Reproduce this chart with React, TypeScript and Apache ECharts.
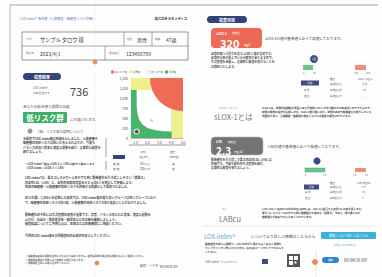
import React, { useEffect, useRef } from "react";
import * as echarts from "echarts";

// ---- data ----
const xRange = [0.6, 5.0];
const yTicks = [0, 250, 500, 750, 1000, 1250, 1500];
const legendNames = ["高リスク域", "境界域", "低リスク域", "標準域"];
const legendColors = ["#ee6b55", "#eef08c", "#ffffff", "#47b46c"];
const greenZone = [[0.6, 0], [5, 0], [5, 1500], [0.6, 1500]];
const yellowTop = [[0.6, 1200], [5, 1200], [5, 1500], [0.6, 1500]];
const yellowRight = [[4.04, 0], [5, 0], [5, 1500], [4.04, 1500]];
const whiteZone = [[1.08, 1200], [1.08, 800], [1.15, 600], [1.3, 450], [1.6, 330], [2.0, 250], [2.6, 200], [3.3, 170], [4.04, 160], [4.04, 1200]];
const redCenter = [5, 1500];
const redEdge = [2.2, 1500];
const patientPoint = [[1.08, 160]];
const zoneLabel = [[2.35, 450]];
const totalScore = "736";
const sloxValue = "320";
const labValue = "2.3";

const FONT = "'Noto Sans CJK JP', 'Noto Sans', sans-serif";

function t(x: number, y: number, text: string, size = 3.6, fill = "#555", extra: any = {}) {
  return {
    type: "text",
    x,
    y,
    silent: true,
    style: { text, fill, fontSize: size, fontFamily: FONT, verticalAlign: "middle", align: "left", ...extra },
  };
}
function r(x: number, y: number, w: number, h: number, fill: string, extra: any = {}, rad = 0) {
  return { type: "rect", silent: true, shape: { x, y, width: w, height: h, r: rad }, style: { fill, ...extra } };
}
function ln(x1: number, y1: number, x2: number, y2: number, stroke = "#888", lw = 0.6, extra: any = {}) {
  return { type: "line", silent: true, shape: { x1, y1, x2, y2 }, style: { stroke, lineWidth: lw, ...extra } };
}
function para(x: number, y: number, lines: string[], gap = 4.4, size = 3.2, fill = "#4a4a4a") {
  return lines.map((s, i) => t(x, y + i * gap, s, size, fill, { fontWeight: "bold" }));
}

export default function App() {
  const ref = useRef<HTMLDivElement>(null);
  useEffect(() => {
    const chart = echarts.init(ref.current!, null, { renderer: "svg" });
    const regions = [
      { pts: greenZone, fill: legendColors[3] },
      { pts: yellowTop, fill: legendColors[1] },
      { pts: yellowRight, fill: legendColors[1] },
      { pts: whiteZone, fill: legendColors[2] },
    ];

    const graphics: any[] = [
      // page frame and fold lines
      ln(10, 5, 378, 5, "#8a8a8a", 0.8),
      ln(10, 5, 10, 277, "#9a9a9a", 0.7),
      ln(95, 0, 95, 277, "#f2e3b0", 0.5, { lineDash: [1.5, 1.5] }),
      ln(316, 250, 316, 277, "#f2c9b0", 0.5),
      // header
      t(20, 18, "LOX-index®  報告書（心筋梗塞・脳梗塞リスク評価）", 3.2, "#5d83b8"),
      t(187, 18, "株式会社 ＮＫメディコ", 3.2, "#333", { align: "right", fontWeight: "bold" }),
      // patient box
      r(22, 32, 166, 28, "none", { stroke: "#555", lineWidth: 0.6 }),
      ln(22, 46, 188, 46, "#555", 0.5),
      ln(124, 32, 124, 46, "#555", 0.5),
      ln(152, 32, 152, 46, "#555", 0.5),
      ln(105, 46, 105, 60, "#555", 0.5),
      t(26, 39, "ﾌﾘ ｶﾅ", 2.6, "#666"),
      t(40, 39, "サンプル タロウ 様", 5.2, "#333"),
      t(127, 39, "性別", 2.6, "#666"),
      t(137, 39, "男性", 5, "#333"),
      t(155, 39, "年齢", 2.6, "#666"),
      t(166, 39, "47歳", 5, "#333"),
      t(26, 53, "受診日", 2.6, "#666"),
      t(40, 53, "2023/4/1", 5, "#333"),
      t(109, 53, "受診番号", 2.6, "#666"),
      t(126, 53, "123456789", 5, "#333"),
      // orange dots (scan marks)
      { type: "circle", silent: true, shape: { cx: 95, cy: 62, r: 2.4 }, style: { fill: "#f08a5d" } },
      { type: "circle", silent: true, shape: { cx: 97, cy: 263, r: 2.4 }, style: { fill: "#f08a5d" } },
      { type: "circle", silent: true, shape: { cx: 315, cy: 262, r: 3 }, style: { fill: "#f08a5d" } },
      // left result section
      r(23, 73, 38, 7, "#34447a", {}, 3.5),
      t(42, 76.5, "検査結果", 4, "#fff", { align: "center", fontWeight: "bold" }),
      t(33, 88, "LOX-index®", 2.8, "#666"),
      t(33, 93, "の総合値です", 2.8, "#666"),
      t(70, 91, totalScore, 11, "#444"),
      t(23, 106, "あなたの総合値と前回の比較", 3.6, "#555"),
      r(23, 112, 44, 11, "#3fae66", {}, 1),
      t(45, 117.8, "低リスク群", 7.5, "#fff", { align: "center", fontWeight: "bold" }),
      t(70, 119, "に分類されます。", 3.6, "#555"),
      { type: "circle", silent: true, shape: { cx: 30, cy: 131, r: 2.5 }, style: { fill: "#9a9a9a" } },
      t(36, 131, "［低］リスク群の説明について", 3.4, "#555"),
      ...para(23, 139, [
        "本検査でLOX-index値は低値を示しました。心筋梗塞や",
        "脳梗塞の発症リスクは低いと考えられますが、今後も",
        "バランスの良い食事と適度な運動を続け、定期的な検査を",
        "続けましょう。",
      ], 4.4, 3),
      ln(106, 138, 106, 157, "#666", 0.6),
      // chart legend
      ...legendNames.flatMap((n, i) => [
        r(111 + i * 18, 70.5, 3, 3, legendColors[i], { stroke: i === 2 ? "#aaa" : "none", lineWidth: 0.3 }),
        t(115 + i * 18, 72, n, 2.4, "#666"),
      ]),
      // under-chart
      ln(129, 145, 186, 145, "#9a9a9a", 1.2),
      r(113, 155, 12, 4, "#34447a"),
      t(141, 152, "BMI", 2.6, "#555"),
      t(139, 157, "(kg/m²)", 2.6, "#555"),
      t(170, 152, "血圧", 2.6, "#555"),
      t(169, 157, "(mmHg)", 2.6, "#555"),
      ...para(25, 164, ["※LOX-index® 値は sLOX-1 と LAB の値から算出します", "（LOX-index = sLOX-1 × LAB）"], 4, 2.8),
      ln(106, 161, 106, 170, "#666", 0.6),
      t(113, 164, "高 値", 2.8, "#555"), t(140, 164, "201以上", 2.8, "#555"), t(172, 164, "高", 2.8, "#555"),
      t(113, 169, "低 値", 2.8, "#555"), t(140, 169, "200以下", 2.8, "#555"), t(172, 169, "低", 2.8, "#555"),
      ...para(25, 178, [
        "LOX-index®は、悪玉コレステロールの中でも特に動脈硬化を引き起こしやすい「超悪玉」",
        "の変性LDL（LAB）と、血管の損傷の程度を示す sLOX-1 を測定して評価します。",
        "将来の脳梗塞・心筋梗塞の発症リスクを評価する指標として開発されました。",
      ], 4.6, 3),
      ...para(25, 198, [
        "約11年間、2,500人を追跡した研究では、LOX-index値の最も高いグループは低いグループに比べ",
        "て、脳梗塞の発症リスクが約3倍、心筋梗塞の発症リスクが約2倍高いことがわかりました。",
      ], 4.6, 3),
      ...para(25, 215, [
        "動脈硬化の予防には生活習慣の改善が重要です。禁煙、バランスのとれた食事、適度な運動を",
        "心がけ、高血圧・脂質異常症・糖尿病などの治療を継続しましょう。",
        "検査結果についてご不明な点は、医師または医療機関にご相談ください。",
      ], 4.6, 3),
      t(25, 236, "今回のLOX-index値を次回検査時の比較の目安としてください。", 3, "#4a4a4a", { fontWeight: "bold" }),
      ...para(25, 256, [
        "※ 本検査は疾患の診断を目的とするものではありません。結果は医師の総合的な判断のもとにご確認ください。",
        "※ 検査値は測定方法等により変動する場合があります。",
        "※ 詳細は担当医にお問い合わせください。",
      ], 3.6, 2.4, "#666"),
      t(140, 266, "監修：ドクター", 3, "#555"),
      t(160, 266, "BIOMOX.INF", 3.2, "#555"),
      // right column
      r(207, 16, 40, 7, "#34447a", {}, 3.5),
      t(227, 19.5, "検査項目", 4, "#fff", { align: "center", fontWeight: "bold" }),
      r(211, 28, 51, 20, "#ec6a55", {}, 4),
      t(216, 33, "sLOX-1", 3.2, "#fff", { fontWeight: "bold" }),
      t(232, 33, "測定値", 2.6, "#fff"),
      t(220, 43, sloxValue, 11, "#fff", { fontWeight: "bold" }),
      t(244, 44.5, "ng/L", 3, "#fff", { fontWeight: "bold" }),
      t(265, 38.5, "sLOX-1の値が基準値と比べて高値しております。", 3.6, "#444"),
      ...para(211, 54, [
        "血管の傷つき具合を表す sLOX-1 値が高めです。",
        "血管の炎症が進んでいる可能性がありますので、",
        "生活習慣を見直し、定期的に検査を受けることを",
        "お勧めいたします。",
      ], 4.2, 2.9),
      { type: "circle", silent: true, shape: { cx: 314, cy: 59, r: 4 }, style: { fill: "#3c4d82" } },
      t(314, 59, "今回", 2, "#fff", { align: "center" }),
      r(303, 65, 10, 5, "#6cc58a"),
      r(355, 65, 11, 5, "#f08c7c"),
      t(303, 73, "0", 2.4, "#666"), t(313, 73, "70", 2.4, "#666"),
      t(354, 73, "140", 2.4, "#666"), t(366, 73, "320", 2.4, "#666"),
      r(301, 80.5, 18, 5, "#3c4d82"),
      t(310, 83, "判定", 2.4, "#fff", { align: "center" }),
      t(330, 79, "数値", 2.4, "#555"), t(358, 79, "sLOX-1 (ng/L)", 2.4, "#555"),
      t(330, 84, "基準値以上", 2.4, "#555"), t(362, 84, "≧70", 2.4, "#555"),
      t(304, 90, "基 準", 2.4, "#555"), t(330, 90, "基準値以内", 2.4, "#555"), t(362, 90, "<70", 2.4, "#555"),
      t(304, 96, "低 値", 2.4, "#555"), t(330, 96, "基準値以下", 2.4, "#555"), t(362, 96, "—", 2.4, "#555"),
      t(219, 108, "エス ロックス ワン", 2.2, "#888"),
      t(214, 116, "sLOX-1とは", 7.5, "#777"),
      ...para(262, 108, [
        "sLOX-1は、血管内皮細胞の表面にある受容体 LOX-1 が切り離されて血液中に出てきたもので、",
        "血管の損傷の程度を反映します。sLOX-1値が高いほど、血管の炎症や動脈硬化が進行している",
        "可能性があり、心筋梗塞・脳梗塞の発症リスクとの関連が報告されています。",
      ], 4.2, 2.6),
      r(211, 137, 52, 18, "#747474", { stroke: "#bbb", lineWidth: 0.6 }, 4),
      t(216, 141.5, "LAB", 3.2, "#fff", { fontWeight: "bold" }),
      t(228, 141.5, "測定値", 2.6, "#fff"),
      t(216, 150.5, labValue, 10, "#fff", { fontWeight: "bold" }),
      t(234, 152, "mg/dL", 3, "#fff"),
      t(268, 146, "LABの値が基準値と比べて低値しております。", 3.6, "#444"),
      ...para(211, 160, [
        "動脈硬化を引き起こす悪玉の変性LDL (LAB) は",
        "低値です。今後も現在の生活習慣を続け、",
        "定期的な検査を受けましょう。",
      ], 4.2, 2.9),
      { type: "circle", silent: true, shape: { cx: 317, cy: 161, r: 3.6 }, style: { fill: "#3c4d82" } },
      r(305, 168, 20, 4, "#6cc58a", { stroke: "#3a9a5a", lineWidth: 0.4 }),
      r(355, 168, 11, 4, "#f08c7c"),
      t(305, 175, "0", 2.4, "#666"), t(323, 175, "4.5", 2.4, "#666"),
      t(353, 175, "7.5", 2.4, "#666"), t(365, 175, "15", 2.4, "#666"),
      r(304, 184.5, 15, 5, "#3c4d82"),
      t(311.5, 187, "判定", 2.4, "#fff", { align: "center" }),
      t(330, 183, "数値", 2.4, "#555"), t(357, 183, "LAB (mg/dL)", 2.4, "#555"),
      t(330, 187, "基準値以上", 2.4, "#555"), t(362, 187, "2.3", 2.4, "#555"),
      t(305, 192, "基 準", 2.4, "#555"), t(330, 192, "基準値以内", 2.4, "#555"), t(362, 192, "4.5", 2.4, "#555"),
      t(305, 198, "低 値", 2.4, "#555"), t(330, 198, "基準値以下", 2.4, "#555"), t(362, 198, "4", 2.4, "#555"),
      t(222, 209, "ラブ", 2.2, "#888"),
      t(219, 218, "LABcu", 7.5, "#777"),
      ...para(262, 209, [
        "LAB (LOX-1 ligand containing ApoB) は、LOX-1に結合する変性LDLの量を表します。",
        "悪玉コレステロールの中でも特に動脈硬化を進める「超悪玉」であり、値が高いほど",
        "動脈硬化が進みやすいと考えられています。",
      ], 4.2, 2.6),
      ln(203, 226, 376, 226, "#bbb", 0.5, { lineDash: [1, 1] }),
      t(204, 236, "LOX-index®", 6, "#59a8d2"),
      t(251, 236, "についてより詳しい情報はこちらから", 3.8, "#444"),
      r(321, 232, 55, 7, "#3bb0d8", {}, 1),
      t(348.5, 235.5, "検査について詳しくはこちら", 3, "#fff", { align: "center" }),
      ...para(205, 244, [
        "検査結果の詳しい説明や、LOX-index®に関するよくあるご質問を",
        "ウェブサイトでご覧いただけます。右のQRコードからアクセスして",
        "ください。",
      ], 4, 2.6),
      t(334, 245, "https://lox-index.jp", 2.4, "#59a8d2"),
      t(205, 262, "LOX-index®  ウェブサイト", 2.8, "#555"),
      r(262, 259, 6, 5, "#3c4d82"),
      r(287, 254, 13, 13, "#555"),
      r(289, 256, 4, 4, "#fff"), r(294, 256, 4, 4, "#fff"), r(289, 261, 4, 4, "#fff"), r(294.5, 261.5, 2, 2, "#fff"),
      r(322, 257, 17, 6, "#2f86c8", {}, 3),
      t(330.5, 260, "検索", 2.6, "#fff", { align: "center" }),
      t(344, 260, "BIOMOX.INF", 4.2, "#555"),
    ];

    chart.setOption({
      animation: false,
      backgroundColor: "#fdfdfd",
      grid: { left: 131, top: 78, width: 52, height: 60, containLabel: false },
      xAxis: {
        type: "value",
        min: xRange[0],
        max: xRange[1],
        interval: 0.2,
        axisLine: { lineStyle: { color: "#888", width: 0.6 } },
        axisTick: { show: false },
        splitLine: { show: false },
        axisLabel: {
          fontSize: 3.4,
          color: "#555",
          margin: 3,
          fontFamily: FONT,
          formatter: (v: number) => (Math.abs(v - Math.round(v)) < 1e-6 && Math.round(v) >= 1 ? Math.round(v).toFixed(1) : ""),
        },
      },
      yAxis: {
        type: "value",
        min: yTicks[0],
        max: yTicks[yTicks.length - 1],
        interval: 250,
        axisLine: { show: true, lineStyle: { color: "#888", width: 0.6 } },
        axisTick: { show: false },
        splitLine: { show: false },
        axisLabel: { fontSize: 3.4, color: "#555", margin: 3, fontFamily: FONT },
      },
      series: [
        {
          type: "custom",
          silent: true,
          z: 1,
          data: regions.map(() => [2, 500]).concat([[3, 1000]]),
          renderItem: (params: any, api: any) => {
            const i = params.dataIndex;
            if (i < regions.length) {
              const pts = regions[i].pts.map((p) => api.coord(p));
              return { type: "polygon", shape: { points: pts }, style: { fill: regions[i].fill } };
            }
            const c = api.coord(redCenter);
            const e = api.coord(redEdge);
            return {
              type: "sector",
              shape: { cx: c[0], cy: c[1], r: c[0] - e[0], r0: 0, startAngle: Math.PI / 2, endAngle: Math.PI, clockwise: true },
              style: { fill: legendColors[0] },
            };
          },
        },
        {
          type: "scatter",
          z: 3,
          data: patientPoint,
          symbolSize: 5,
          itemStyle: { color: "#4a4a4a", borderColor: "#fff", borderWidth: 1.2, shadowColor: "#777", shadowBlur: 1.5 },
        },
        {
          type: "scatter",
          z: 3,
          data: zoneLabel,
          symbolSize: 0,
          label: { show: true, formatter: "A", position: "inside", fontSize: 4, color: "#555", fontFamily: FONT },
        },
      ],
      graphic: graphics,
    });
    return () => chart.dispose();
  }, []);
  return <div ref={ref} style={{ position: "fixed", left: 0, top: 0, width: 382, height: 277 }} />;
}
